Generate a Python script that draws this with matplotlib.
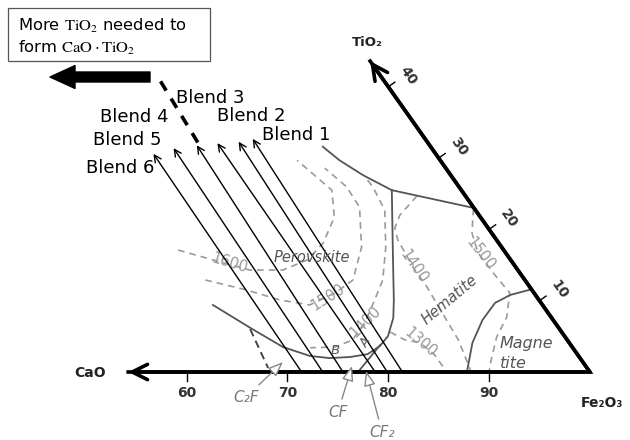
import matplotlib.pyplot as plt
from matplotlib.patches import Rectangle
import numpy as np

plt.rcParams['mathtext.fontset'] = 'stix'

H = np.sqrt(3) / 2

# compositions below are (Fe2O3 wt%, TiO2 wt%), CaO is the rest
base_ticks = [60, 70, 80, 90]
ti_ticks = [10, 20, 30, 40]

blend_base_fe = [71.4, 73.5, 75.5, 78.7, 79.9, 81.4]
blend_tip_fe = [41.4, 43.0, 45.1, 47.0, 49.0, 50.2]
blend_tip_ti = [30.6, 31.4, 31.8, 32.1, 32.3, 32.7]
blend_labels = ['Blend 6', 'Blend 5', 'Blend 4', 'Blend 3', 'Blend 2', 'Blend 1']
blend_label_px = [(120, 168), (127, 140), (134, 117), (210, 98), (251, 116), (296, 135)]

# phase boundaries
upper_fe = [57.7, 60.3, 63.7, 67.6]
upper_ti = [31.6, 29.7, 27.6, 25.5]
tie_fe = [67.6, 77.0]
tie_ti = [25.5, 23.0]
perov_fe = [67.6, 71.9, 75.5, 76.7, 77.45, 77.35, 76.7, 75.15, 73.2, 71.1, 67.8, 63.2, 57.9]
perov_ti = [25.5, 17.1, 10.1, 7.6, 5.05, 3.65, 2.5, 2.1, 1.95, 2.25, 3.5, 6.2, 9.4]
cf_fe = [77.0, 77.3]
cf_ti = [0.0, 3.8]
magn_fe = [87.8, 86.3, 85.7, 85.75, 86.7, 88.4]
magn_ti = [0.0, 4.1, 7.3, 9.7, 10.8, 11.6]
c2f_fe = [63.3, 67.8]
c2f_ti = [6.0, 0.56]

# isotherms (deg C)
iso = {
    '1600': ([50.6, 54.8, 59.1, 62.4, 64.1, 64.5, 63.8, 61.65, 59.8, 56.1],
             [17.1, 15.7, 14.3, 14.3, 15.7, 18.1, 21.7, 25.5, 26.9, 29.7]),
    '1500': ([55.4, 60.2, 64.2, 67.5, 69.2, 70.05, 68.6, 65.6, 62.9, 59.4],
             [12.9, 11.5, 10.1, 9.4, 11.1, 12.9, 17.5, 23.1, 25.95, 28.6]),
    '1400': ([64.5, 65.5, 68.3, 71.0, 73.0, 73.6, 74.2, 74.2, 73.0, 70.55],
             [26.9, 25.95, 22.7, 17.5, 12.9, 10.1, 7.0, 4.5, 3.5, 3.4]),
    '1400h': ([70.5, 70.15, 70.55, 71.7, 75.2, 77.9, 81.2, 84.7, 88.0],
              [24.7, 22.0, 20.2, 18.5, 14.6, 11.9, 8.3, 4.5, 0.3]),
    '1500h': ([77.0, 78.55, 80.55, 84.1, 86.5, 87.9, 88.3, 89.5, 90.0],
              [22.9, 19.5, 16.7, 13.3, 11.1, 7.7, 4.9, 1.3, 0.0]),
    '1300': ([77.4, 79.4, 81.1, 83.4, 85.8],
             [5.6, 4.5, 4.1, 2.4, 0.0]),
}
iso_labels = [('1600', 230, 263, -17), ('1500', 328, 297, 32), ('1400', 365, 322, 45),
              ('1400', 414, 267, -55), ('1500', 480, 254, -52), ('1300', 421, 342, -40)]


def xy(fe, ti):
    fe = np.asarray(fe, float)
    ti = np.asarray(ti, float)
    return fe + ti / 2, ti * H


def fr(px, py):
    return px / 630, 1 - py / 440


fig = plt.figure(figsize=(6.3, 4.4), dpi=100)
ax = fig.add_axes([0, 0, 1, 1])
ax.set_xlim(41.48, 103.98)
ax.set_ylim(-8.26, 45.18)
ax.axis('off')

# isotherms
for k, (f, t) in iso.items():
    ax.plot(*xy(f, t), color='#9a9a9a', lw=1.2, dashes=(4, 3))
for s, px, py, rot in iso_labels:
    ax.text(*fr(px, py), s, transform=ax.transAxes, ha='center', va='center',
            fontsize=10.5, color='#999999', rotation=rot)

# phase boundaries
for f, t in [(upper_fe, upper_ti), (tie_fe, tie_ti), (perov_fe, perov_ti),
             (cf_fe, cf_ti), (magn_fe, magn_ti)]:
    ax.plot(*xy(f, t), color='#555555', lw=1.3)
ax.plot(*xy(c2f_fe, c2f_ti), color='#444444', lw=1.4, dashes=(4, 2.5))

# triangle axes
corner = xy(100, 0)
ca_tip = xy(54.2, 0)
ti_tip = xy(56.4, 43.6)
ax.plot([ca_tip[0], corner[0], ti_tip[0]], [ca_tip[1], corner[1], ti_tip[1]],
        color='black', lw=2.6, solid_joinstyle='miter')
for tip in (ca_tip, ti_tip):
    ax.annotate('', xy=tip, xytext=corner,
                arrowprops=dict(arrowstyle='->,head_length=1.1,head_width=0.55',
                                lw=2.6, color='black', shrinkA=0, shrinkB=0,
                                mutation_scale=10))

for v in base_ticks:
    ax.plot([v, v], [0, -1.05], color='black', lw=1.0)
    ax.text(v, -2.55, str(v), ha='center', va='center', fontsize=10,
            fontweight='bold', color='#333333')
for v in ti_ticks:
    x0, y0 = xy(100 - v, v)
    ax.plot([x0, x0 + 0.65], [y0, y0 + 0.56], color='black', lw=1.0)
    ax.text(x0 + 1.98, y0 + 1.34, str(v), ha='center', va='center', fontsize=10,
            fontweight='bold', color='#333333', rotation=-55)

ax.text(*fr(90, 373), 'CaO', transform=ax.transAxes, ha='center', va='center',
        fontsize=10, fontweight='bold', color='#222222')
ax.text(*fr(602, 403), 'Fe₂O₃', transform=ax.transAxes, ha='center', va='center',
        fontsize=10, fontweight='bold', color='#222222')
ax.text(*fr(367, 43), 'TiO₂', transform=ax.transAxes, ha='center', va='center',
        fontsize=9.5, fontweight='bold', color='#222222')

# blend arrows
for bf, tf, tt in zip(blend_base_fe, blend_tip_fe, blend_tip_ti):
    ax.annotate('', xy=xy(tf, tt), xytext=xy(bf, 0),
                arrowprops=dict(arrowstyle='->,head_length=0.5,head_width=0.25',
                                lw=1.0, color='black', shrinkA=0, shrinkB=0,
                                mutation_scale=10))
for lab, (px, py) in zip(blend_labels, blend_label_px):
    ax.text(*fr(px, py), lab, transform=ax.transAxes, ha='center', va='center',
            fontsize=13)

# dashed extension and big arrow
ax.plot(*xy([45.0, 36.2], [32.2, 41.65]), color='black', lw=2.6, dashes=(3, 2.6))
ax.annotate('', xy=fr(50, 77), xytext=fr(150, 77), xycoords='axes fraction',
            arrowprops=dict(arrowstyle='simple,head_length=1.8,head_width=1.65,tail_width=0.72',
                            mutation_scale=10, color='black', shrinkA=0, shrinkB=0))

# note box
ax.add_patch(Rectangle(fr(8, 61), 202 / 630, 53 / 440, transform=ax.transAxes,
                       fill=False, ec='#555555', lw=0.9))
ax.text(*fr(18, 31), r'More $\mathrm{TiO_2}$ needed to', transform=ax.transAxes,
        fontsize=11.8, va='baseline')
ax.text(*fr(18, 53), r'form $\mathrm{CaO}\cdot\mathrm{TiO_2}$', transform=ax.transAxes,
        fontsize=11.8, va='baseline')

# region labels
reg = dict(transform=ax.transAxes, va='center', style='italic', color='#555555')
ax.text(*fr(312, 257), 'Perovskite', ha='center', fontsize=10.5, **reg)
ax.text(*fr(450, 300), 'Hematite', ha='center', fontsize=10.5, rotation=40, **reg)
ax.text(*fr(500, 343), 'Magne', ha='left', fontsize=11.5, **reg)
ax.text(*fr(500, 363), 'tite', ha='left', fontsize=11.5, **reg)
ax.text(*fr(335, 350), 'B', ha='center', fontsize=9.5, **reg)
ax.text(*fr(366, 343), 'A', ha='center', fontsize=9, rotation=60, **reg)

# compound pointers
ptr = dict(arrowstyle='-|>,head_length=0.9,head_width=0.35', mutation_scale=10,
           fc='white', ec='#888888', lw=1.0, shrinkA=2, shrinkB=0)
for lab, f, t, px, py in [('C₂F', 68.85, 1.4, 246, 397), ('CF', 75.98, 0.84, 338, 412),
                          ('CF₂', 77.72, 0.14, 382, 432)]:
    ax.annotate(lab, xy=xy(f, t), xytext=fr(px, py), textcoords='axes fraction',
                ha='center', va='center', fontsize=11, style='italic', color='#777777',
                arrowprops=ptr)

fig.savefig('out.png', dpi=100)
